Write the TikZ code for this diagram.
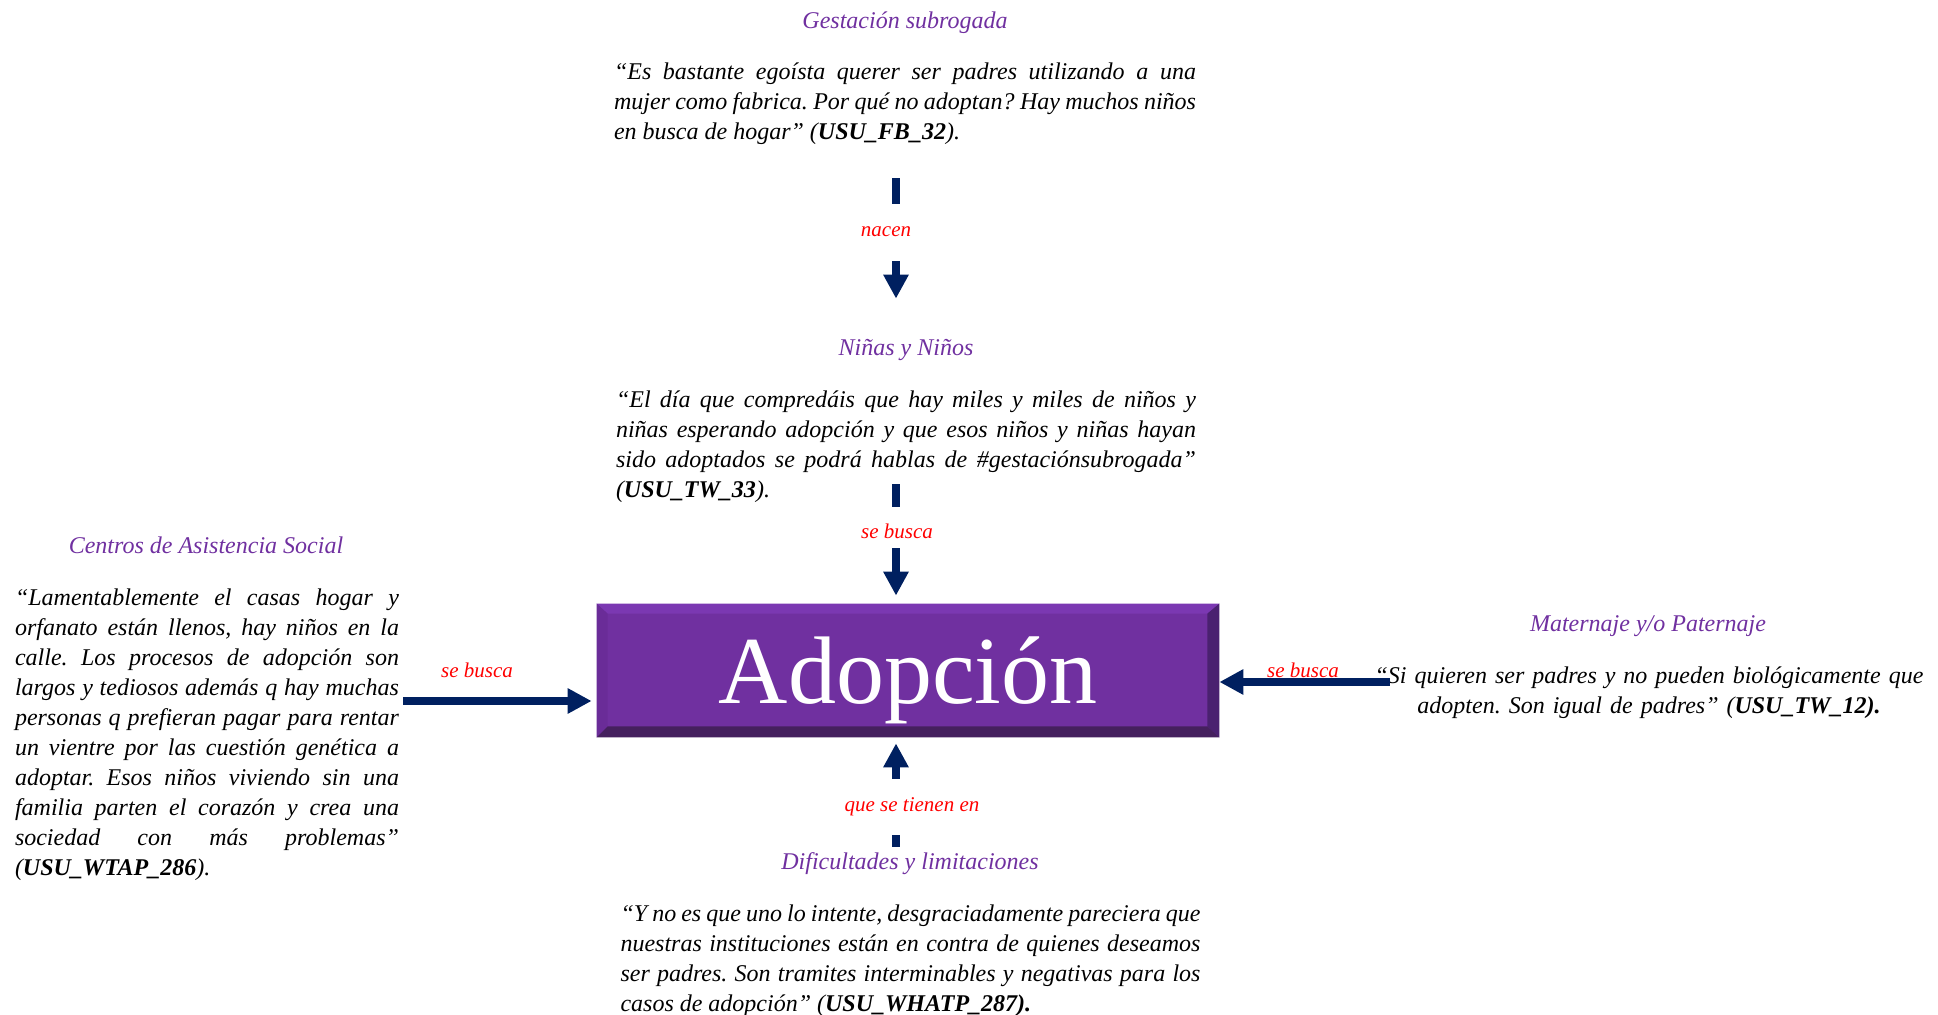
\documentclass[tikz,border=0pt]{standalone}
\usepackage{fontspec}
\setmainfont{Liberation Serif}
\usetikzlibrary{arrows.meta,calc}
\definecolor{adpurple}{HTML}{7030A0}
\definecolor{adnavy}{HTML}{002060}
\definecolor{bvtop}{HTML}{7B38B2}
\definecolor{bvleft}{HTML}{6A2C98}
\definecolor{bvright}{HTML}{4A2170}
\definecolor{bvbottom}{HTML}{45205E}
\hyphenpenalty=10000
\exhyphenpenalty=10000
\tolerance=9999
\frenchspacing

\begin{document}
\begin{tikzpicture}[x=0.5pt,y=-0.5pt,
    head/.style={text=adpurple,font=\fontsize{12}{15}\selectfont\itshape,inner sep=0pt,text height=9pt,text depth=3pt},
    lbl/.style={text=red,font=\fontsize{10.5}{12}\selectfont\itshape,inner sep=0pt,text height=7pt,text depth=2pt},
    qtext/.style={anchor=north,inner sep=0pt,text width=#1,align=justify,font=\fontsize{12}{15}\selectfont\itshape},
    adbox/.style={fill=adpurple,text=white,inner sep=0pt,minimum width=311pt,minimum height=66.5pt,
        font=\fontsize{48}{48}\selectfont,text height=40pt,text depth=7.5pt},
    cbar/.style={draw=adnavy,line width=4pt},
    carrow/.style={cbar,-{Triangle[length=12pt,width=12pt]}}]

    \useasboundingbox (0,0) rectangle (1938,1015);

    \node[head] (h1) at (905,23) {Gestación subrogada};

    \node[qtext=291pt] (q1) at (905,58) {\strut“Es bastante egoísta querer ser padres utilizando a una\linebreak
        mujer como fabrica. Por qué no adoptan? Hay muchos niños\linebreak
        en busca de hogar” (\textbf{USU\_FB\_32}).\strut};

    \node[lbl] (l1) at (886,232) {nacen};

    \node[head] (h2) at (906,350) {Niñas y Niños};

    \node[qtext=290pt] (q2) at (906,386) {\strut“El día que compredáis que hay miles y miles de niños y\linebreak
        niñas esperando adopción y que esos niños y niñas hayan\linebreak
        sido adoptados se podrá hablas de \#gestaciónsubrogada”\linebreak
        (\textbf{USU\_TW\_33}).\strut};

    \node[lbl] (l2) at (897,534) {se busca};

    \node[adbox] (adop) at (908,670.5) {Adopción};

    \fill[bvtop] (adop.north west) -- (adop.north east) -- ($(adop.north east)+(-12,10)$) -- ($(adop.north west)+(11,10)$) -- cycle;
    \fill[bvleft] (adop.north west) -- ($(adop.north west)+(11,10)$) -- ($(adop.south west)+(11,-11)$) -- (adop.south west) -- cycle;
    \fill[bvright] (adop.north east) -- (adop.south east) -- ($(adop.south east)+(-12,-11)$) -- ($(adop.north east)+(-12,10)$) -- cycle;
    \fill[bvbottom] (adop.south west) -- ($(adop.south west)+(11,-11)$) -- ($(adop.south east)+(-12,-11)$) -- (adop.south east) -- cycle;

    \node[head] (h3) at (206,548) {Centros de Asistencia Social};

    \node[qtext=192pt] (q3) at (207,584) {\strut“Lamentablemente el casas hogar y\linebreak
        orfanato están llenos, hay niños en la\linebreak
        calle. Los procesos de adopción son\linebreak
        largos y tediosos además q hay muchas\linebreak
        personas q prefieran pagar para rentar\linebreak
        un vientre por las cuestión genética a\linebreak
        adoptar. Esos niños viviendo sin una\linebreak
        familia parten el corazón y crea una\linebreak
        sociedad con más problemas”\linebreak
        (\textbf{USU\_WTAP\_286}).\strut};

    \node[lbl] (l3) at (477,672) {se busca};

    \node[head] (h4) at (1648,626) {Maternaje y/o Paternaje};

    \node[qtext=290pt,align=center] (q4) at (1649,662) {\strut“Si quieren ser padres y no pueden biológicamente que\\
        adopten. Son igual de padres” (\textbf{USU\_TW\_12).}\strut};

    \node[lbl] (l4) at (1303,672) {se busca};

    \node[lbl] (l5) at (912,806) {que se tienen en};

    \node[head] (h5) at (910,863) {Dificultades y limitaciones};

    \node[qtext=290pt] (q5) at (910.5,900) {\strut“Y no es que uno lo intente, desgraciadamente pareciera que\linebreak
        nuestras instituciones están en contra de quienes deseamos\linebreak
        ser padres. Son tramites interminables y negativas para los\linebreak
        casos de adopción” (\textbf{USU\_WHATP\_287).}\strut};

    \coordinate (ax) at (896,0);
    \coordinate (ay3) at (0,701);
    \coordinate (ay4) at (0,682);

    \draw[cbar,shorten <=9.5pt,shorten >=14.5pt] (l1.north -| ax) -- (q1.south -| ax);
    \draw[carrow,shorten <=10pt,shorten >=19.5pt] (l1.south -| ax) -- (h2.north -| ax);

    \draw[cbar,shorten <=9pt,shorten >=-11.5pt] (l2.north -| ax) -- (q2.south -| ax);
    \draw[carrow,shorten <=2.5pt,shorten >=4pt] (l2.south -| ax) -- (adop.north -| ax);

    \draw[carrow,shorten <=2pt,shorten >=2.5pt] (q3.east |- ay3) -- (adop.west |- ay3);
    \draw[carrow,shorten <=-15.5pt] (q4.west |- ay4) -- (adop.east |- ay4);

    \draw[carrow,shorten <=9pt,shorten >=3pt] (l5.north -| ax) -- (adop.south -| ax);
    \draw[cbar,shorten <=2pt,shorten >=10pt] (h5.north -| ax) -- (l5.south -| ax);

\end{tikzpicture}
\end{document}
